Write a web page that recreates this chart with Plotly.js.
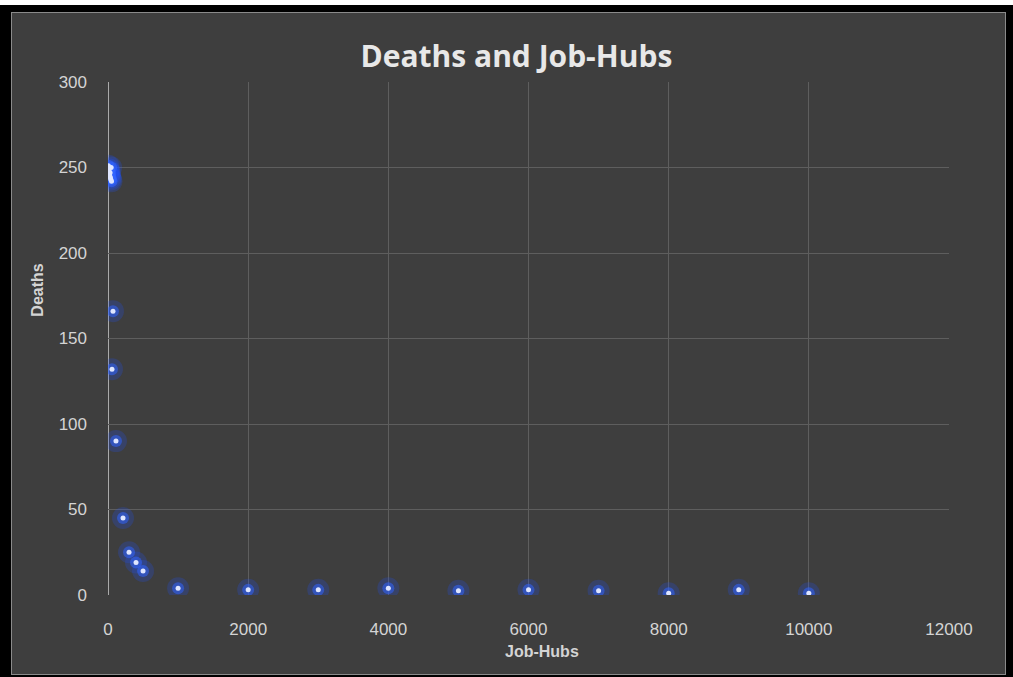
<!DOCTYPE html>
<html>
<head>
<meta charset="utf-8">
<script src="https://cdn.plot.ly/plotly-3.0.1.min.js"></script>
<style>
  html, body { margin: 0; padding: 0; background: #ffffff; width: 1013px; height: 677px; overflow: hidden; }
  #frame { position: absolute; left: 0; top: 5px; width: 1013px; height: 672px; background: #000; }
  #chart { position: absolute; left: 11px; top: 7px; width: 995px; height: 663px; border: 1px solid #8a8a8a; box-sizing: border-box; }
</style>
</head>
<body>
<div id="frame"><div id="chart"></div></div>
<script>
// Job-Hubs (x) and Deaths (y)
const jobHubs = [5, 10, 15, 20, 25, 30, 35, 40, 45, 50,
                 71, 57, 114, 214, 300, 400, 500,
                 1000, 2000, 3000, 4000, 5000, 6000, 7000, 8000, 9000, 10000];
const deaths  = [251, 249, 248, 246, 245, 247, 244, 243, 250, 242,
                 166, 132, 90, 45, 25, 19, 14,
                 4, 3, 3, 4, 2.5, 3, 2.5, 1, 3, 1];

const xTicks = [0, 2000, 4000, 6000, 8000, 10000, 12000];
const yTicks = [0, 50, 100, 150, 200, 250, 300];

const textColor = '#d4d4d4';
const fontFam = '"Liberation Sans", Arial, sans-serif';

const traces = [
  { x: jobHubs, y: deaths, type: 'scatter', mode: 'markers', hoverinfo: 'skip',
    marker: { size: 22, color: 'rgba(30,80,255,0.22)', line: { width: 0 } } },
  { x: jobHubs, y: deaths, type: 'scatter', mode: 'markers', hoverinfo: 'skip',
    marker: { size: 12, color: 'rgba(50,100,255,0.55)', line: { width: 0 } } },
  { x: jobHubs, y: deaths, type: 'scatter', mode: 'markers',
    marker: { size: 5, color: '#dfe6ff', line: { width: 0 } } }
];

const layout = {
  width: 993, height: 661,
  paper_bgcolor: '#3e3e3e', plot_bgcolor: '#3e3e3e',
  showlegend: false,
  margin: { l: 96, r: 56, t: 69, b: 79 },
  font: { family: fontFam, color: textColor, size: 17 },
  title: { text: 'Deaths and Job-Hubs', x: 0.508, xref: 'container', y: 0.934, yref: 'container',
           yanchor: 'middle', font: { family: '"Open Sans", "Liberation Sans", sans-serif', size: 30, color: '#e8e8e8', weight: 'bold' } },
  xaxis: {
    range: [0, 12000], tickvals: xTicks, ticktext: xTicks.map(String),
    showgrid: true, gridcolor: '#5e5e5e', gridwidth: 1,
    zeroline: false, showline: false, ticks: '', ticklabelstandoff: 22,
    tickfont: { size: 17, color: textColor }, fixedrange: true
  },
  yaxis: {
    range: [0, 300], tickvals: yTicks, ticktext: yTicks.map(String),
    showgrid: true, gridcolor: '#5e5e5e', gridwidth: 1,
    zeroline: false, showline: false, ticks: '', ticklabelstandoff: 20,
    tickfont: { size: 17, color: textColor }, fixedrange: true
  },
  shapes: [
    { type: 'line', xref: 'x', yref: 'paper', x0: 0, x1: 0, y0: 0, y1: 1,
      line: { color: '#cfcfcf', width: 1.5 }, layer: 'below' }
  ],
  annotations: [
    { text: '<b>Deaths</b>', xref: 'paper', yref: 'paper', x: -0.084, y: 0.594,
      xanchor: 'center', yanchor: 'middle',
      textangle: -90, showarrow: false, font: { size: 16, color: textColor } },
    { text: '<b>Job-Hubs</b>', xref: 'paper', yref: 'paper', x: 0.516, y: -0.111,
      xanchor: 'center', yanchor: 'middle',
      showarrow: false, font: { size: 16, color: textColor } }
  ]
};

Plotly.newPlot('chart', traces, layout, { displayModeBar: false, staticPlot: true });
</script>
</body>
</html>
